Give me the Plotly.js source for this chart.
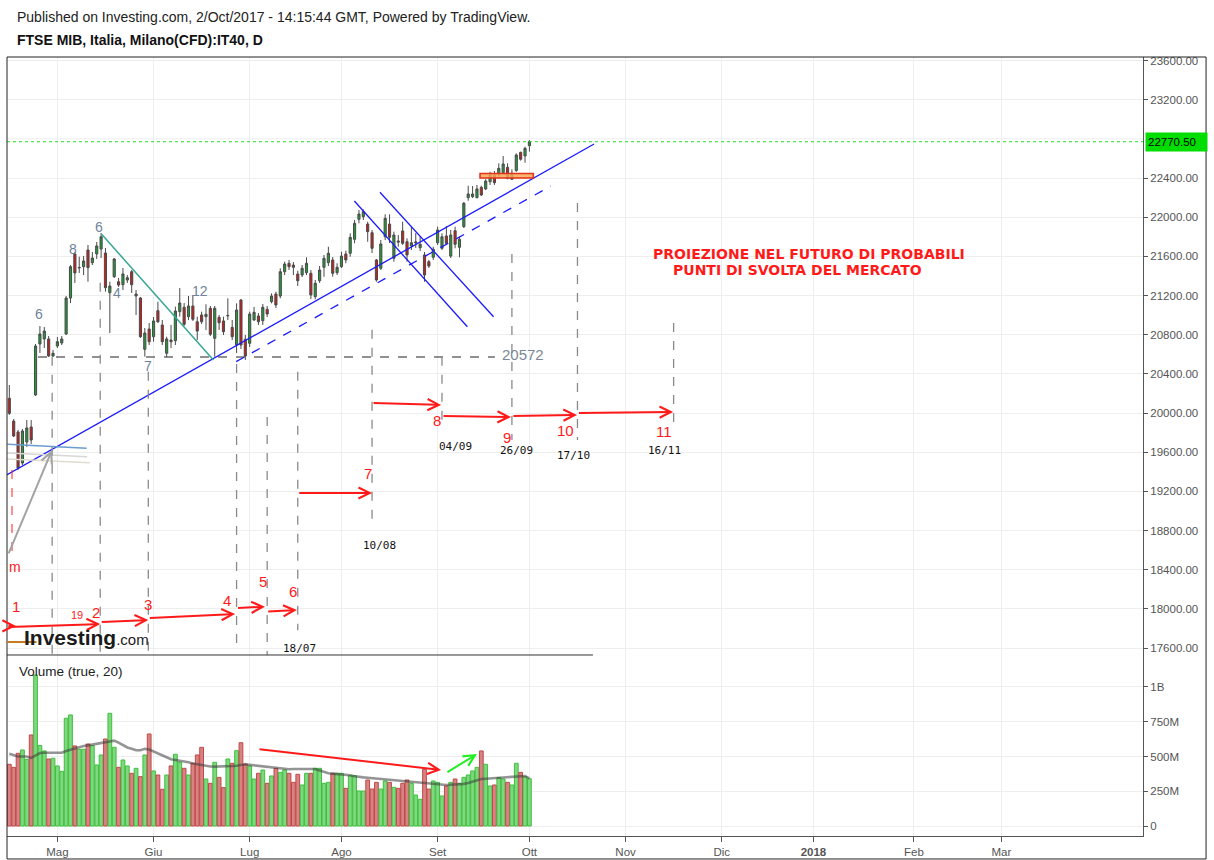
<!DOCTYPE html>
<html><head><meta charset="utf-8">
<script src="https://cdn.plot.ly/plotly-3.0.1.min.js"></script>
<style>html,body{margin:0;padding:0;background:#fff;}#chart{width:1214px;height:860px;}</style>
</head><body><div id="chart"></div>
<script>
// ---------- DATA ----------
const dates = [
"2017-04-14","2017-04-17","2017-04-18","2017-04-19","2017-04-20","2017-04-21","2017-04-24","2017-04-25","2017-04-26","2017-04-27","2017-04-28",
"2017-05-02","2017-05-03","2017-05-04","2017-05-05","2017-05-08","2017-05-09","2017-05-10","2017-05-11","2017-05-12","2017-05-15","2017-05-16","2017-05-17","2017-05-18","2017-05-19","2017-05-22","2017-05-23","2017-05-24","2017-05-25","2017-05-26","2017-05-29","2017-05-30","2017-05-31",
"2017-06-01","2017-06-02","2017-06-05","2017-06-06","2017-06-07","2017-06-08","2017-06-09","2017-06-12","2017-06-13","2017-06-14","2017-06-15","2017-06-16","2017-06-19","2017-06-20","2017-06-21","2017-06-22","2017-06-23","2017-06-26","2017-06-27","2017-06-28","2017-06-29","2017-06-30",
"2017-07-03","2017-07-04","2017-07-05","2017-07-06","2017-07-07","2017-07-10","2017-07-11","2017-07-12","2017-07-13","2017-07-14","2017-07-17","2017-07-18","2017-07-19","2017-07-20","2017-07-21","2017-07-24","2017-07-25","2017-07-26","2017-07-27","2017-07-28","2017-07-31",
"2017-08-01","2017-08-02","2017-08-03","2017-08-04","2017-08-07","2017-08-08","2017-08-09","2017-08-10","2017-08-11","2017-08-14","2017-08-16","2017-08-17","2017-08-18","2017-08-21","2017-08-22","2017-08-23","2017-08-24","2017-08-25","2017-08-28","2017-08-29","2017-08-30","2017-08-31",
"2017-09-01","2017-09-04","2017-09-05","2017-09-06","2017-09-07","2017-09-08","2017-09-11","2017-09-12","2017-09-13","2017-09-14","2017-09-15","2017-09-18","2017-09-19","2017-09-20","2017-09-21","2017-09-22","2017-09-25","2017-09-26","2017-09-27","2017-09-28","2017-09-29",
"2017-10-02"];
const openP = [20150,19918,19806,19489,19704,19857,20184,20705,20756,20756,20582,20684,20715,20807,21174,21624,21481,21494,21665,21535,
21624,21675,21634,21229,21392,21341,21310,21358,21443,21195,21174,20650,20858,20779,21045,20899,20610,20745,20738,21035,
21080,20984,21093,20932,21001,20984,21069,20763,20977,20940,20991,20875,20694,21154,20753,20712,20950,20991,20943,21059,
21137,21215,21195,21443,21529,21511,21420,21409,21433,21427,21188,21351,21488,21535,21563,21433,21494,21624,21631,21774,
21978,22005,21930,21841,21563,21478,21800,21930,21580,21757,21859,21749,21706,21736,21688,21614,21545,21590,21739,21682,
21808,21603,21862,21692,21903,22199,22209,22199,22305,22288,22362,22431,22431,22454,22509,22387,22475,22662,22625,22730];
const highP = [20286,19939,19826,19837,19928,19928,20705,20888,20878,20786,20643,20776,20786,21195,21511,21644,21596,21603,21716,21644,
21746,21838,21685,21341,21583,21379,21481,21409,21460,21256,21185,20868,20919,20980,21137,20950,20779,20899,21086,21277,
21123,21195,21205,20984,21035,21110,21093,21093,21001,20984,21171,20950,21120,21164,20797,21035,21083,21021,21113,21093,
21222,21239,21478,21545,21563,21542,21453,21511,21590,21460,21358,21501,21614,21698,21593,21529,21647,21658,21835,21971,
22073,22080,21954,21869,21573,21767,22029,22029,21852,21818,21954,21784,21903,21838,21800,21644,21563,21698,21903,21835,
21910,21869,21903,21800,22155,22321,22318,22329,22321,22387,22464,22471,22550,22625,22550,22489,22652,22669,22720,22788];
const lowP = [19980,19755,19418,19469,19653,19683,20174,20613,20664,20572,20572,20664,20694,20797,21123,21328,21430,21409,21341,21511,
21573,21583,21239,20817,21379,21287,21256,21328,21226,21001,20766,20575,20694,20728,20919,20694,20575,20664,20694,20984,
20889,20950,20940,20745,20909,20848,20786,20575,20848,20797,20950,20745,20613,20654,20541,20674,20940,20899,20899,20980,
21120,21072,21171,21409,21460,21409,21297,21389,21409,21164,21161,21328,21392,21501,21392,21409,21481,21529,21596,21733,
21937,21971,21749,21634,21341,21460,21767,21736,21545,21698,21716,21545,21665,21685,21654,21341,21481,21563,21716,21665,
21716,21583,21682,21590,21889,22168,22195,22193,22216,22277,22329,22329,22413,22441,22387,22380,22464,22577,22556,22669];
const closeP = [19997,19765,19438,19816,19847,19724,20684,20807,20837,20582,20610,20728,20756,21174,21494,21430,21486,21552,21484,21583,
21706,21800,21280,21297,21573,21307,21420,21382,21310,21215,20779,20817,20728,20940,20932,20728,20756,20728,21042,21123,
20906,21093,20957,20837,20932,21008,20804,21069,20922,20830,20996,20779,21052,20694,20582,21011,21028,20932,21080,21011,
21195,21103,21443,21522,21494,21488,21351,21478,21529,21205,21325,21460,21580,21631,21427,21488,21603,21563,21794,21937,
22032,22056,21852,21682,21358,21726,21988,21794,21818,21746,21733,21614,21739,21746,21723,21409,21501,21672,21869,21800,
21733,21818,21723,21774,22142,22237,22237,22288,22226,22369,22431,22352,22499,22543,22397,22448,22635,22591,22703,22770.5];
// volume in millions
const volumeM = [444,422,523,547,480,655,1086,580,540,482,487,432,393,775,799,576,552,552,590,578,
439,511,626,811,566,422,475,432,379,415,355,511,662,396,367,264,367,432,516,458,
415,367,451,511,566,338,307,458,350,276,482,451,542,599,446,432,338,379,403,307,
360,415,386,403,379,314,372,295,379,379,415,415,307,314,379,379,379,271,362,362,
252,252,331,266,314,266,324,314,278,271,307,331,307,223,192,408,266,324,314,216,
288,314,338,307,350,367,396,422,540,444,288,295,348,338,314,295,451,386,355,340];
// Volume 20-period average as drawn, millions
const volMA = [520,510,500,500,500,490,510,525,527,527,527,527,527,540,550,560,565,575,580,585,
590,600,605,610,614,600,580,565,555,545,545,555,550,535,520,505,490,480,475,470,
468,458,450,444,440,433,428,427,427,427,428,432,434,440,444,440,436,432,430,425,
422,418,412,410,408,410,410,413,415,415,410,400,390,380,377,375,374,370,365,358,
352,350,347,344,343,342,338,333,328,326,323,320,319,316,312,308,307,303,300,296,
295,297,299,300,303,310,320,332,338,340,342,343,345,347,349,350,353,358,360,343];
const monthTickDates = ["2017-05-02","2017-06-01","2017-07-03","2017-08-01","2017-09-01","2017-10-02","2017-11-01","2017-12-01","2018-01-01","2018-02-01","2018-03-01"];
const monthLabels = ["Mag","Giu","Lug","Ago","Set","Ott","Nov","Dic","<b>2018</b>","Feb","Mar"];
// 22800 is hidden behind the last-price label in the reference
const priceTicks = [17600,18000,18400,18800,19200,19600,20000,20400,20800,21200,21600,22000,22400,23200,23600];
const hiddenGridLevel = 22800;
const volTicks = [0,250,500,750,1000];
const volTickLabels = ["0","250M","500M","750M","1B"];
const lastPrice = 22770.5;
const supportLevel = 20572;

// ---------- helpers: fractional bar index -> date string (weekday axis) ----------
function addD(d,n){return new Date(d.getTime()+n*86400000);}
function isWE(d){const w=d.getUTCDay();return w===0||w===6;}
function nextWD(d){let n=addD(d,1);while(isWE(n))n=addD(n,1);return n;}
function prevWD(d){let n=addD(d,-1);while(isWE(n))n=addD(n,-1);return n;}
function X(i){
  const k=Math.floor(i), f=i-k; let d;
  if(k<0){d=new Date(dates[0]+"T00:00:00Z");for(let j=0;j>k;j--)d=prevWD(d);}
  else if(k<dates.length){d=new Date(dates[k]+"T00:00:00Z");}
  else{d=new Date(dates[dates.length-1]+"T00:00:00Z");for(let j=dates.length-1;j<k;j++)d=nextWD(d);}
  d=new Date(d.getTime()+f*86400000);
  return d.toISOString().slice(0,19).replace("T"," ");
}

// ---------- traces ----------
const up = closeP.map((c,i)=>c>=openP[i]);
const traces = [
 {type:"candlestick",x:dates,open:openP,high:highP,low:lowP,close:closeP,xaxis:"x",yaxis:"y",
  increasing:{line:{color:"#4a4a4a",width:1},fillcolor:"#1f9d35"},
  decreasing:{line:{color:"#4a4a4a",width:1},fillcolor:"#cc1b1b"},
  whiskerwidth:0,hoverinfo:"skip",showlegend:false},
 {type:"bar",x:dates,y:volumeM,xaxis:"x",yaxis:"y2",width:0.86*86400000,
  marker:{color:up.map(u=>u?"rgba(120,214,120,0.95)":"rgba(214,124,124,0.95)"),
          line:{color:up.map(u=>u?"#3fbf3f":"#c04848"),width:1}},hoverinfo:"skip",showlegend:false},
 {type:"scatter",mode:"lines",x:dates,y:volMA,xaxis:"x",yaxis:"y2",
  line:{color:"rgba(60,60,60,0.55)",width:2.6},hoverinfo:"skip",showlegend:false}
];

// ---------- drawings ----------
const shapes = [];
function seg(i0,p0,i1,p1,color,width,dash,yref){
  shapes.push({type:"line",xref:"x",yref:yref||"y",x0:X(i0),y0:p0,x1:X(i1),y1:p1,
    line:{color:color,width:width,dash:dash||"solid"},layer:"above"});
}
// hidden gridline (behind price label)
shapes.push({type:"line",xref:"paper",yref:"y",x0:0,x1:1,y0:hiddenGridLevel,y1:hiddenGridLevel,line:{color:"#eeeeee",width:1},layer:"below"});
// current price dotted line
shapes.push({type:"line",xref:"paper",yref:"y",x0:0,x1:1,y0:lastPrice,y1:lastPrice,line:{color:"#22dd22",width:1,dash:"dot"}});
// support level
seg(6.57,supportLevel,111.1,supportLevel,"#222",1.2,"dash");
// rising trend lines
seg(-0.6,19367,133.8,22747,"#1a1aff",1.3);
seg(51.9,20524,123.9,22318,"#1a1aff",1.3,"dash");
// falling channel
seg(78.95,22165,104.8,20881,"#1a1aff",1.3);
seg(84.8,22254,110.8,20983,"#1a1aff",1.3);
// teal descending line
seg(21.14,21825,46.7,20541,"#35a792",1.5);
// small lines at left
seg(-0.46,19680,17.7,19640,"#6b9bd0",1.5);
seg(-0.5,19592,17.8,19554,"#d6d6d6",1.5);
seg(-0.5,19530,18.4,19492,"#e2dccf",1.5);
// red dashed vertical at left
seg(0.62,19418,0.62,18500,"#ff2020",1,"dash");
// vertical grey dashed markers
const vlines = [[9.8,20575,17528],[20.8,21330,17528],[31.8,20420,17528],[52,20500,17580],[59,19960,17528],[66,20420,17780],
 [83,20850,18860],[99,20575,19930],[115,21625,19725],[130,22145,19725],[152,20920,19826]];
vlines.forEach(v=>seg(v[0],v[1],v[0],v[2],"#8a8a8a",1.3,"dash"));
// orange box
shapes.push({type:"rect",xref:"x",yref:"y",x0:X(107.7),x1:X(119.9),y0:22400,y1:22446,
  fillcolor:"rgba(246,168,86,0.85)",line:{color:"#e3321a",width:1.5},layer:"above"});
// pane separator + frame + logo swoosh
shapes.push({type:"line",xref:"paper",yref:"paper",x0:0,x1:0.5158,y0:0.23235,y1:0.23235,line:{color:"#333",width:1}});
shapes.push({type:"rect",xref:"paper",yref:"paper",x0:0,x1:1.0555,y0:-0.0295,y1:1,line:{color:"#222",width:1},fillcolor:"rgba(0,0,0,0)"});
shapes.push({type:"line",xref:"paper",yref:"paper",x0:0.0,x1:0.026,y0:0.249,y1:0.249,line:{color:"#c47a1e",width:2}});

const annotations = [];
function arrow(ti,tp,hi,hp,color,width,yref){
  annotations.push({xref:"x",yref:yref||"y",axref:"x",ayref:yref||"y",x:X(hi),y:hp,ax:X(ti),ay:tp,
    text:"",showarrow:true,arrowhead:5,arrowsize:1.1,arrowwidth:width||2,arrowcolor:color,standoff:0});
}
function label(t,i,p,color,size,family,yref){
  annotations.push({xref:"x",yref:yref||"y",x:X(i),y:p,text:t,showarrow:false,
    font:{color:color,size:size,family:family||"Liberation Sans, Arial, sans-serif"},xanchor:"center",yanchor:"middle"});
}
// red projection arrows
[[-0.53,17825,1.53,17825],[-0.53,17814,20.8,17845],[20.8,17866,31.8,17886],[31.8,17906,51.65,17947],[52,18008,58.5,18022],
 [58.9,17971,65.8,17988],[66,19183,83,19183],[83,20102,98.8,20082],[99,19969,114.8,19959],[115,19969,129.9,19980],[130,20000,151.9,20010]]
 .forEach(a=>arrow(a[0],a[1],a[2],a[3],"#ff1a1a",2));
// grey arrow
arrow(-0.3,18550,9.77,19622,"#a3a3a3",2);
// volume pane arrows
arrow(56.9,554,98.8,403,"#ff1a1a",2,"y2");
arrow(99.9,381,107,518,"#22ee22",2,"y2");
// red numbers
[["1",1.6,18019,15],["19",15.5,17937,11],["2",19.8,17958,15],["3",31.74,18049,15],["4",49.8,18090,15],["5",58.05,18284,15],
 ["6",64.9,18172,15],["7",82.08,19387,15],["8",97.9,19928,15],["9",113.9,19745,15],["10",127.2,19826,15],["11",149.8,19816,15],["m",1.3,18427,14]]
 .forEach(l=>label(l[0],l[1],l[2],"#ff1a1a",l[3]));
// date labels
[["18/07",66.5,17600],["10/08",84.6,18642],["04/09",102,19663],["26/09",115.95,19612],["17/10",129,19571],["16/11",149.8,19612]]
 .forEach(l=>label(l[0],l[1],l[2],"#111",11,"DejaVu Sans Mono, monospace"));
// grey wave labels
[["6",6.8,21011],["8",14.6,21675],["6",20.5,21900],["4",24.65,21226],["12",43.6,21246],["7",31.7,20480]]
 .forEach(l=>label(l[0],l[1],l[2],"#70839a",14));
annotations.push({xref:"x",yref:"y",x:X(112.3),y:20600,text:"20572",showarrow:false,xanchor:"left",yanchor:"middle",
  font:{color:"#7b8794",size:15,family:"Liberation Sans, Arial"}});
// projection note
annotations.push({xref:"x",yref:"y",x:X(146.9),y:21628,text:"<b>PROIEZIONE NEL FUTURO DI PROBABILI</b>",showarrow:false,xanchor:"left",yanchor:"middle",
  font:{color:"#ff1a1a",size:14,family:"DejaVu Sans, Verdana, sans-serif"}});
annotations.push({xref:"x",yref:"y",x:X(151.5),y:21462,text:"<b>PUNTI DI SVOLTA DEL MERCATO</b>",showarrow:false,xanchor:"left",yanchor:"middle",
  font:{color:"#ff1a1a",size:14,family:"DejaVu Sans, Verdana, sans-serif"}});
// last price label on axis
annotations.push({xref:"paper",yref:"y",x:1.0018,y:lastPrice,text:"22770.50",showarrow:false,xanchor:"left",yanchor:"middle",
  bgcolor:"#00dd00",borderpad:2,width:57,height:14,align:"left",font:{color:"#000",size:11.5,family:"Liberation Sans, Arial"}});
// header + pane titles
annotations.push({xref:"paper",yref:"paper",x:0.00704,y:1.0513,text:"Published on Investing.com, 2/Oct/2017 - 14:15:44 GMT, Powered by TradingView.",
  showarrow:false,xanchor:"left",yanchor:"middle",font:{color:"#222",size:14,family:"Liberation Sans, Arial"}});
annotations.push({xref:"paper",yref:"paper",x:0.00704,y:1.0218,text:"<b>FTSE MIB, Italia, Milano(CFD):IT40, D</b>",
  showarrow:false,xanchor:"left",yanchor:"middle",font:{color:"#111",size:14,family:"Liberation Sans, Arial"}});
annotations.push({xref:"paper",yref:"paper",x:0.0088,y:0.2118,text:"Volume (true, 20)",
  showarrow:false,xanchor:"left",yanchor:"middle",font:{color:"#222",size:13.5,family:"Liberation Sans, Arial"}});
annotations.push({xref:"paper",yref:"paper",x:0.0132,y:0.2542,text:"<b>Investing</b><span style=\"font-size:15px\">.com</span>",
  showarrow:false,xanchor:"left",yanchor:"middle",font:{color:"#1b1b1b",size:21,family:"Liberation Sans, Arial"}});

const axFont = {family:"Liberation Sans, Arial",size:11.5,color:"#555"};
const layout = {
  width:1214,height:860,margin:{l:7,r:71,t:57,b:24,pad:0},
  paper_bgcolor:"#fff",plot_bgcolor:"#fff",showlegend:false,hovermode:false,
  font:{family:"Liberation Sans, Arial"},
  xaxis:{type:"date",anchor:"y2",range:[X(-0.53),X(259.4)],
    rangebreaks:[{bounds:["sat","mon"]},{values:["2017-05-01","2017-08-15"]}],
    tickmode:"array",tickvals:monthTickDates,ticktext:monthLabels,tickfont:axFont,
    showgrid:true,gridcolor:"#eeeeee",gridwidth:1,showline:true,linecolor:"#555",linewidth:1,
    ticks:"outside",ticklen:5,tickcolor:"#555",zeroline:false,rangeslider:{visible:false},fixedrange:true},
  yaxis:{domain:[0.23235,1],side:"right",anchor:"x",range:[17528.5,23635.7],tickmode:"array",tickvals:priceTicks,
    tickformat:".2f",tickfont:axFont,showgrid:true,gridcolor:"#eeeeee",showline:true,linecolor:"#555",
    ticks:"outside",ticklen:4,tickcolor:"#555",zeroline:false,fixedrange:true},
  yaxis2:{domain:[0,0.23235],side:"right",anchor:"x",range:[-71.9,1230.2],tickmode:"array",tickvals:volTicks,ticktext:volTickLabels,
    tickfont:axFont,showgrid:true,gridcolor:"#eeeeee",showline:true,linecolor:"#555",
    ticks:"outside",ticklen:4,tickcolor:"#555",zeroline:false,fixedrange:true},
  shapes:shapes,annotations:annotations
};
Plotly.newPlot("chart",traces,layout,{staticPlot:true,displayModeBar:false});
</script></body></html>
